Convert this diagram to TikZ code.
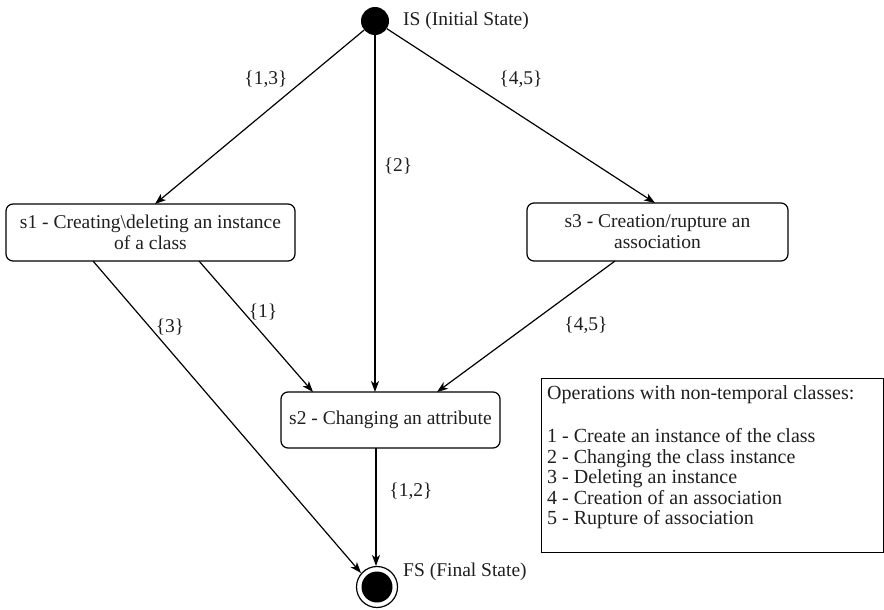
\documentclass[tikz,border=0pt]{standalone}
\usepackage{fontspec}
\setmainfont{Liberation Serif}
\usetikzlibrary{arrows.meta}
\begin{document}
\begin{tikzpicture}[x=1pt,y=-1pt,
  every node/.style={font=\fontsize{19.5}{21}\selectfont, text=black!88},
  statebox/.style={draw, line width=1.2pt, rounded corners=7pt, align=center, inner sep=0pt},
  conn/.style={line width=1.2pt, -{Stealth[length=11pt,width=8pt,inset=3pt]}},
  lbl/.style={inner sep=1pt}]
\useasboundingbox (0,0) rectangle (884,610);
% states
\node[circle, fill=black, minimum size=28pt, inner sep=0pt] (is) at (375,21) {};
\node[anchor=west, inner sep=0pt] (isl) at (403,21) {IS (Initial State)};
\node[statebox, minimum width=289pt, minimum height=57pt] (s1) at (150.5,232.5) {s1 - Creating\textbackslash deleting an instance\\of a class};
\node[statebox, minimum width=261pt, minimum height=58pt] (s3) at (657.5,232) {s3 - Creation/rupture an\\association};
\node[statebox, minimum width=219pt, minimum height=56pt] (s2) at (390.5,420) {s2 - Changing an attribute};
\node[circle, draw, line width=1.2pt, minimum size=41pt, inner sep=0pt] (fs) at (377,587) {};
\node[circle, fill=black, minimum size=31pt, inner sep=0pt] at (fs.center) {};
\node[anchor=west, inner sep=0pt] (fsl) at (403,572) {FS (Final State)};
% connector anchors
\coordinate (s1top) at (155,204);
\coordinate (s3top) at (655,203);
\coordinate (s2a) at (313,392);
\coordinate (s2b) at (375,392);
\coordinate (s2c) at (437,392);
\coordinate (s1a) at (93,261);
\coordinate (s1b) at (199,261);
\coordinate (s3a) at (615,261);
\coordinate (fsa) at (361,573);
\coordinate (fsb) at (376,566);
\coordinate (s2d) at (376,448);
\draw[conn] (is) -- (s1top);
\draw[conn] (is) -- (s2b);
\draw[conn] (is) -- (s3top);
\draw[conn] (s1b) -- (s2a);
\draw[conn] (s1a) -- (fsa);
\draw[conn] (s3a) -- (s2c);
\draw[conn] (s2d) -- (fsb);
% labels
\node[lbl] (l13) at (266,79) {\{1,3\}};
\node[lbl] (l45a) at (521,79) {\{4,5\}};
\node[lbl] (l2) at (398,166) {\{2\}};
\node[lbl] (l3) at (170,327) {\{3\}};
\node[lbl] (l1) at (263,312) {\{1\}};
\node[lbl] (l45b) at (586,325) {\{4,5\}};
\node[lbl] (l12) at (411,491) {\{1,2\}};
% legend
\node[draw, line width=1pt, anchor=north west, minimum width=342pt, minimum height=174pt, inner sep=0pt] (leg) at (541,378) {};
\node[anchor=north west, align=left, inner sep=0pt, font=\fontsize{20}{20.5}\selectfont] (legt) at (547,385) {Operations with non-temporal classes:\\[23pt]1 - Create an instance of the class\\2 - Changing the class instance\\3 - Deleting an instance\\4 - Creation of an association\\5 - Rupture of association};
\end{tikzpicture}
\end{document}
